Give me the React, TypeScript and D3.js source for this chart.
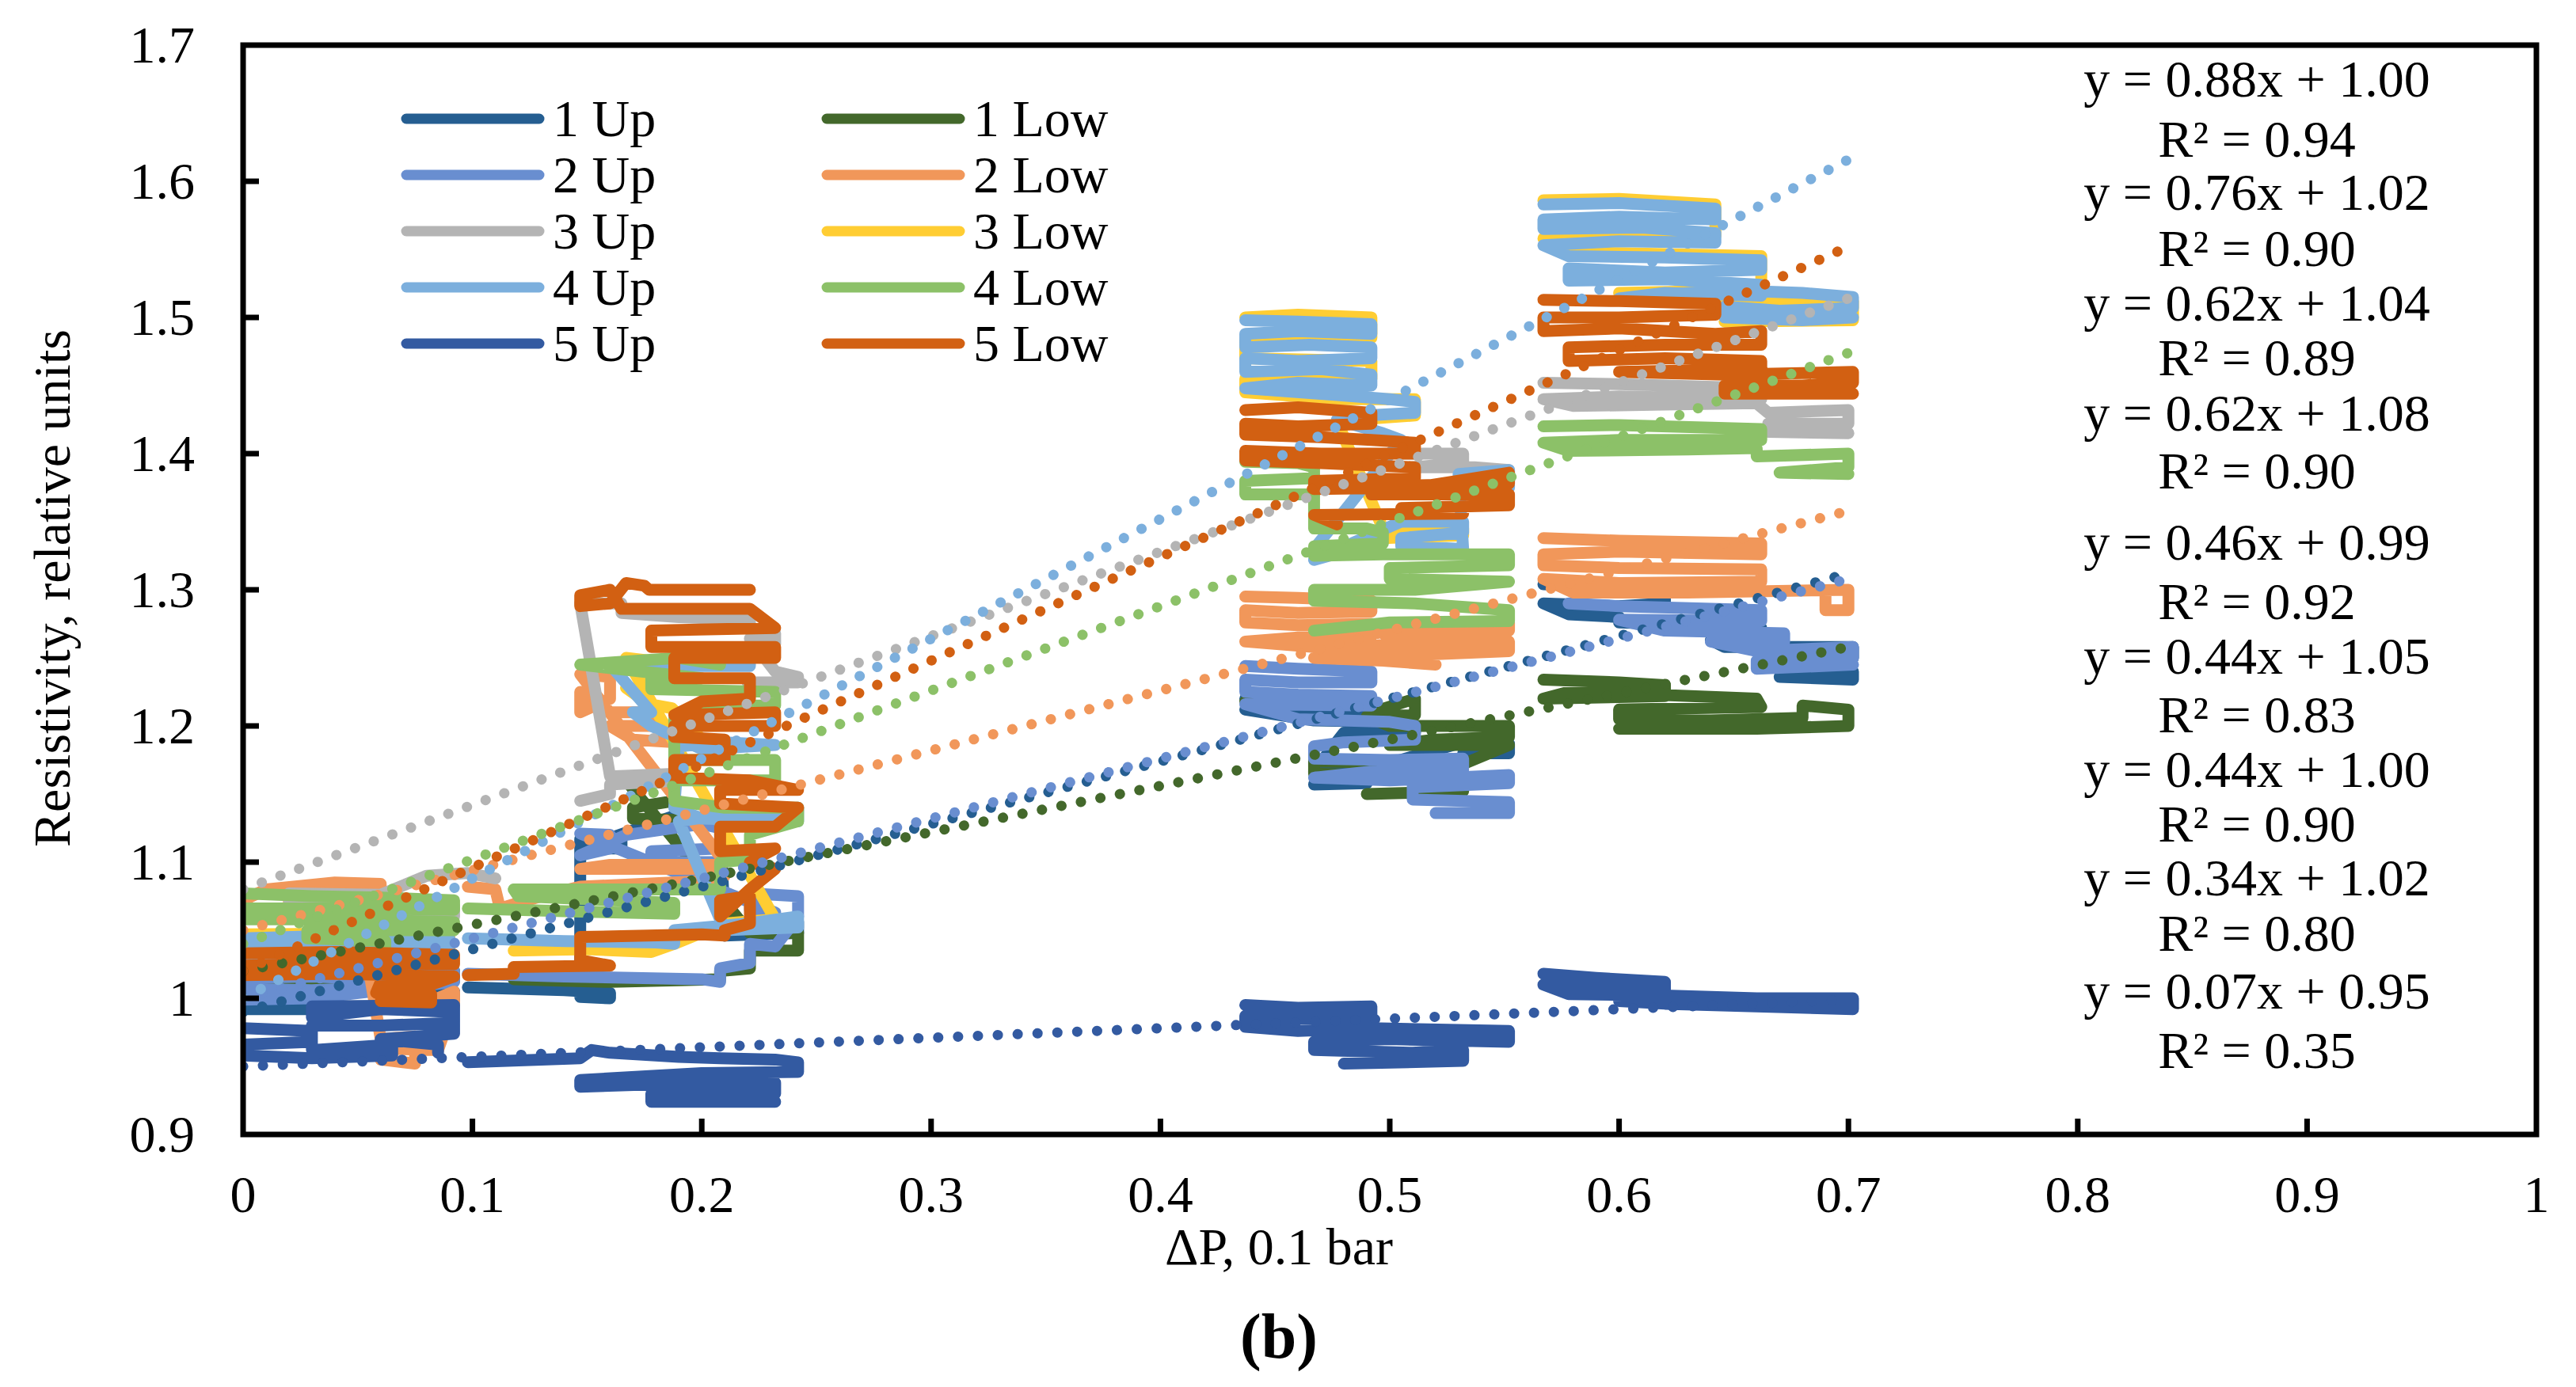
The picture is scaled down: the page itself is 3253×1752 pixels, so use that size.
import React, { useRef, useEffect } from "react";
import * as d3 from "d3";

type Pt = [number, number] | null;

// series in Excel plotting order (legend fills row by row)
const seriesNames = ["1 Up", "1 Low", "2 Up", "2 Low", "3 Up", "3 Low", "4 Up", "4 Low", "5 Up", "5 Low"];
const seriesColors = ["#255E91", "#43682B", "#698ED0", "#F1975A", "#B4B4B4", "#FFCD33", "#7CAFDD", "#8CC168", "#335AA1", "#D26012"];

// traces; null = break between pressure steps
const up1: Pt[] = [
    [0, 0.999], [0.03, 0.997], [0.03, 0.992], [0, 0.992], [0.03, 1.004], [0.06, 1.006], [0.092, 1.005], [0.092, 0.998], [0.06, 1.0],
    null,
    [0.098, 1.008], [0.14, 1.006], [0.16, 1.004], [0.16, 1.0], [0.147, 1.001], [0.147, 1.117], [0.165, 1.117], [0.165, 1.11], [0.147, 1.11],
    [0.188, 1.134], [0.208, 1.132], [0.208, 1.126], [0.21, 1.055], [0.242, 1.056], [0.242, 1.048], [0.21, 1.046],
    null,
    [0.437, 1.22], [0.46, 1.218], [0.492, 1.215], [0.492, 1.21], [0.46, 1.21], [0.437, 1.212], [0.467, 1.204], [0.5, 1.203], [0.511, 1.2],
    [0.511, 1.195], [0.48, 1.195], [0.467, 1.167], [0.49, 1.165], [0.49, 1.158], [0.467, 1.157], [0.532, 1.188], [0.552, 1.187], [0.552, 1.18], [0.532, 1.18],
    null,
    [0.567, 1.304], [0.6, 1.302], [0.62, 1.3], [0.62, 1.29], [0.6, 1.288], [0.567, 1.29], [0.578, 1.282], [0.6, 1.28], [0.6, 1.276], [0.64, 1.274],
    [0.662, 1.272], [0.662, 1.264], [0.64, 1.263], [0.646, 1.258], [0.702, 1.258], [0.702, 1.25], [0.68, 1.248], [0.67, 1.242], [0.702, 1.24],
    [0.702, 1.234], [0.67, 1.236],
];

const low1: Pt[] = [
    [0, 1.022], [0.04, 1.02], [0.092, 1.02], [0.092, 1.013], [0.05, 1.012], [0, 1.014],
    null,
    [0.118, 1.014], [0.16, 1.012], [0.208, 1.014], [0.208, 1.02], [0.221, 1.022], [0.221, 1.035], [0.242, 1.035], [0.242, 1.048], [0.221, 1.048],
    [0.167, 1.16], [0.188, 1.158], [0.188, 1.145], [0.17, 1.14], [0.17, 1.132], [0.188, 1.131],
    null,
    [0.437, 1.218], [0.49, 1.216], [0.492, 1.21], [0.511, 1.22], [0.511, 1.208], [0.49, 1.207], [0.5, 1.2], [0.552, 1.2], [0.552, 1.192],
    [0.52, 1.19], [0.5, 1.186], [0.552, 1.186], [0.532, 1.172], [0.467, 1.174], [0.467, 1.165], [0.51, 1.163], [0.532, 1.16], [0.532, 1.152], [0.49, 1.15],
    null,
    [0.567, 1.234], [0.6, 1.232], [0.62, 1.23], [0.62, 1.222], [0.567, 1.22], [0.578, 1.225], [0.6, 1.224], [0.66, 1.22], [0.662, 1.214],
    [0.6, 1.212], [0.6, 1.205], [0.64, 1.204], [0.68, 1.206], [0.68, 1.215], [0.7, 1.212], [0.7, 1.2], [0.66, 1.198], [0.6, 1.198],
];

const up2: Pt[] = [
    [0, 1.015], [0.03, 1.016], [0.06, 1.014], [0.06, 1.008], [0.03, 1.006], [0, 1.007], [0, 0.999], [0.03, 1.0], [0.092, 1.012], [0.092, 1.02], [0.06, 1.02],
    null,
    [0.098, 1.018], [0.14, 1.016], [0.2, 1.014], [0.208, 1.012], [0.208, 1.022], [0.221, 1.026], [0.221, 1.04], [0.232, 1.038], [0.242, 1.06],
    [0.242, 1.075], [0.221, 1.077], [0.221, 1.065], [0.232, 1.063],
    [0.147, 1.121], [0.16, 1.12], [0.16, 1.11], [0.147, 1.105], [0.167, 1.12], [0.2, 1.128], [0.208, 1.125], [0.208, 1.11], [0.178, 1.108],
    [0.178, 1.1], [0.208, 1.1],
    null,
    [0.437, 1.244], [0.46, 1.242], [0.492, 1.24], [0.492, 1.232], [0.46, 1.232], [0.437, 1.234], [0.437, 1.225], [0.46, 1.223], [0.492, 1.222],
    [0.492, 1.215], [0.437, 1.216], [0.46, 1.205], [0.5, 1.203], [0.511, 1.2], [0.511, 1.19], [0.48, 1.188], [0.467, 1.185], [0.467, 1.176],
    [0.5, 1.175], [0.532, 1.176], [0.532, 1.168], [0.5, 1.168], [0.467, 1.162], [0.5, 1.16], [0.552, 1.164], [0.552, 1.158], [0.51, 1.155],
    [0.51, 1.146], [0.552, 1.144], [0.552, 1.136], [0.52, 1.136],
    null,
    [0.578, 1.29], [0.6, 1.288], [0.662, 1.285], [0.662, 1.277], [0.6, 1.278], [0.62, 1.27], [0.672, 1.268], [0.672, 1.262], [0.64, 1.262],
    [0.66, 1.255], [0.702, 1.258], [0.702, 1.25], [0.66, 1.248], [0.66, 1.242], [0.702, 1.245],
];

const low2: Pt[] = [
    [0, 1.072], [0.01, 1.08], [0.04, 1.085], [0.06, 1.084], [0.06, 1.077], [0.02, 1.078], [0.02, 1.07], [0.05, 1.07],
    [0.06, 0.97], [0.075, 0.972], [0.075, 0.952], [0.06, 0.955], [0.06, 0.963], [0.085, 0.962], [0.092, 0.995], [0.092, 1.005], [0.085, 1.0],
    null,
    [0.098, 1.082], [0.11, 1.08], [0.112, 1.066], [0.13, 1.075], [0.147, 1.082], [0.2, 1.086], [0.21, 1.09], [0.2, 1.095], [0.147, 1.095],
    [0.16, 1.098], [0.208, 1.098], [0.21, 1.1],
    [0.147, 1.238], [0.16, 1.236], [0.16, 1.22], [0.147, 1.21], [0.147, 1.225], [0.16, 1.21], [0.178, 1.21], [0.178, 1.2], [0.16, 1.2],
    [0.17, 1.19], [0.188, 1.188],
    null,
    [0.437, 1.295], [0.46, 1.294], [0.492, 1.292], [0.492, 1.284], [0.46, 1.283], [0.437, 1.285], [0.437, 1.276], [0.46, 1.274], [0.492, 1.275],
    [0.492, 1.266], [0.46, 1.265], [0.437, 1.262], [0.467, 1.258], [0.511, 1.26], [0.552, 1.262], [0.552, 1.255], [0.51, 1.252], [0.467, 1.25],
    [0.497, 1.248], [0.52, 1.245], [0.497, 1.268], [0.552, 1.27], [0.552, 1.276], [0.5, 1.274],
    null,
    [0.567, 1.338], [0.6, 1.336], [0.662, 1.334], [0.662, 1.326], [0.6, 1.328], [0.567, 1.326], [0.567, 1.318], [0.6, 1.316], [0.662, 1.315],
    [0.662, 1.306], [0.6, 1.305], [0.567, 1.308], [0.58, 1.298], [0.63, 1.298], [0.7, 1.3], [0.7, 1.285], [0.69, 1.285], [0.69, 1.296],
];

const up3: Pt[] = [
    [0, 1.064], [0.04, 1.062], [0.092, 1.06], [0.092, 1.068], [0.05, 1.07], [0.02, 1.072], [0.02, 1.077], [0.06, 1.076], [0.08, 1.09],
    [0.098, 1.092], [0.11, 1.088],
    null,
    [0.147, 1.145], [0.16, 1.15], [0.16, 1.157], [0.19, 1.16], [0.19, 1.165], [0.16, 1.163],
    [0.147, 1.29], [0.165, 1.29], [0.165, 1.283], [0.19, 1.28], [0.221, 1.278], [0.221, 1.27], [0.232, 1.268], [0.232, 1.26], [0.221, 1.264],
    [0.232, 1.24], [0.242, 1.236], [0.242, 1.232], [0.22, 1.232],
    null,
    [0.505, 1.4], [0.532, 1.4], [0.532, 1.393], [0.51, 1.39], [0.537, 1.39], [0.552, 1.388], [0.552, 1.382], [0.537, 1.382],
    null,
    [0.567, 1.452], [0.6, 1.451], [0.662, 1.448], [0.662, 1.44], [0.6, 1.442], [0.567, 1.44], [0.58, 1.435], [0.62, 1.436], [0.66, 1.437],
    [0.665, 1.43], [0.7, 1.432], [0.7, 1.422], [0.68, 1.422], [0.665, 1.422], [0.665, 1.416], [0.7, 1.415],
];

const low3: Pt[] = [
    [0, 1.047], [0.09, 1.048], [0.09, 1.03], [0, 1.028],
    null,
    [0.118, 1.035], [0.15, 1.036], [0.178, 1.034], [0.188, 1.04], [0.21, 1.055], [0.232, 1.058],
    [0.167, 1.25], [0.177, 1.248], [0.177, 1.225], [0.167, 1.228], [0.177, 1.216], [0.187, 1.213], [0.2, 1.19], [0.22, 1.185],
    null,
    [0.437, 1.5], [0.46, 1.502], [0.492, 1.5], [0.492, 1.485], [0.437, 1.483], [0.437, 1.47], [0.492, 1.468], [0.492, 1.455], [0.437, 1.455],
    [0.437, 1.445], [0.477, 1.44], [0.511, 1.44], [0.511, 1.428], [0.477, 1.424], [0.497, 1.345], [0.532, 1.345], [0.532, 1.34], [0.497, 1.338],
    null,
    [0.567, 1.586], [0.6, 1.587], [0.642, 1.583], [0.642, 1.56], [0.567, 1.558], [0.578, 1.548], [0.662, 1.545], [0.662, 1.52], [0.6, 1.518],
    [0.646, 1.512], [0.702, 1.512], [0.702, 1.498], [0.646, 1.497],
];

const up4: Pt[] = [
    [0, 1.044], [0.04, 1.046], [0.09, 1.044], [0.09, 1.038], [0.05, 1.037], [0, 1.036], [0, 1.03], [0.04, 1.031], [0.09, 1.032],
    null,
    [0.098, 1.044], [0.14, 1.042], [0.18, 1.041], [0.188, 1.04], [0.188, 1.05], [0.22, 1.055], [0.242, 1.06], [0.242, 1.052], [0.21, 1.05],
    [0.19, 1.13], [0.21, 1.135], [0.242, 1.14], [0.242, 1.13], [0.2, 1.132], [0.188, 1.14], [0.19, 1.185], [0.21, 1.188], [0.232, 1.186],
    [0.2, 1.183], [0.178, 1.2], [0.17, 1.21], [0.178, 1.21], [0.16, 1.245], [0.19, 1.25], [0.221, 1.248], [0.221, 1.244], [0.18, 1.244],
    null,
    [0.437, 1.498], [0.46, 1.497], [0.492, 1.495], [0.492, 1.488], [0.46, 1.49], [0.437, 1.488], [0.437, 1.478], [0.465, 1.48], [0.492, 1.478],
    [0.492, 1.47], [0.46, 1.468], [0.437, 1.47], [0.437, 1.46], [0.47, 1.462], [0.492, 1.458], [0.492, 1.45], [0.46, 1.452], [0.437, 1.448],
    [0.477, 1.443], [0.5, 1.44], [0.511, 1.438], [0.511, 1.43], [0.49, 1.428], [0.477, 1.425], [0.497, 1.415], [0.505, 1.41],
    [0.467, 1.33], [0.48, 1.328], [0.467, 1.322], [0.505, 1.35], [0.532, 1.35], [0.532, 1.342], [0.505, 1.338], [0.505, 1.332], [0.532, 1.33],
    [0.53, 1.385], [0.552, 1.388], [0.552, 1.375], [0.535, 1.372],
    null,
    [0.567, 1.583], [0.6, 1.584], [0.642, 1.58], [0.642, 1.572], [0.6, 1.574], [0.567, 1.572], [0.567, 1.565], [0.61, 1.566], [0.642, 1.562],
    [0.642, 1.555], [0.6, 1.556], [0.567, 1.553], [0.578, 1.545], [0.62, 1.544], [0.662, 1.542], [0.662, 1.535], [0.62, 1.533], [0.578, 1.536],
    [0.578, 1.527], [0.62, 1.528], [0.662, 1.524], [0.662, 1.516], [0.62, 1.518], [0.6, 1.514], [0.646, 1.52], [0.68, 1.518], [0.702, 1.515],
    [0.702, 1.507], [0.67, 1.505], [0.646, 1.508], [0.646, 1.5], [0.68, 1.498], [0.702, 1.5],
];

const low4: Pt[] = [
    [0, 1.077], [0.03, 1.075], [0.06, 1.074], [0.092, 1.072], [0.092, 1.065], [0.05, 1.066], [0, 1.066], [0, 1.058], [0.04, 1.058],
    [0.092, 1.056], [0.092, 1.05], [0.05, 1.05], [0.028, 1.05], [0.028, 1.044], [0.062, 1.042], [0.062, 1.036],
    null,
    [0.098, 1.066], [0.14, 1.064], [0.188, 1.062], [0.188, 1.07], [0.12, 1.075], [0.118, 1.08], [0.208, 1.08], [0.208, 1.1], [0.221, 1.102],
    [0.221, 1.12], [0.242, 1.13], [0.242, 1.14], [0.21, 1.14], [0.188, 1.145], [0.188, 1.16], [0.232, 1.16], [0.232, 1.175], [0.188, 1.175],
    [0.188, 1.205], [0.2, 1.215], [0.232, 1.215], [0.232, 1.225], [0.178, 1.227], [0.178, 1.235], [0.2, 1.235], [0.147, 1.245], [0.19, 1.25],
    [0.208, 1.245],
    null,
    [0.437, 1.394], [0.46, 1.393], [0.467, 1.39], [0.467, 1.382], [0.437, 1.38], [0.437, 1.37], [0.467, 1.37], [0.467, 1.345], [0.49, 1.345],
    [0.497, 1.342], [0.497, 1.334], [0.467, 1.332], [0.467, 1.325], [0.497, 1.326], [0.552, 1.326], [0.552, 1.318], [0.5, 1.316], [0.5, 1.308],
    [0.552, 1.306], [0.511, 1.3], [0.467, 1.3], [0.467, 1.292], [0.511, 1.29], [0.552, 1.285], [0.552, 1.277], [0.5, 1.276], [0.467, 1.27],
    null,
    [0.567, 1.42], [0.6, 1.421], [0.662, 1.418], [0.662, 1.41], [0.6, 1.41], [0.567, 1.408], [0.578, 1.402], [0.63, 1.403], [0.66, 1.404],
    [0.66, 1.398], [0.7, 1.4], [0.7, 1.39], [0.67, 1.386], [0.7, 1.385],
];

const up5: Pt[] = [
    [0, 0.978], [0.03, 0.976], [0.03, 0.968], [0, 0.966], [0, 0.958], [0.03, 0.956], [0.065, 0.958], [0.065, 0.966], [0.03, 0.962],
    [0.03, 0.98], [0.06, 0.98], [0.092, 0.982], [0.092, 0.99], [0.06, 0.992], [0.03, 0.986], [0.03, 0.994], [0.092, 0.995], [0.092, 0.974],
    [0.06, 0.97], [0.085, 0.966], [0.085, 0.96],
    null,
    [0.098, 0.953], [0.13, 0.955], [0.147, 0.956], [0.152, 0.962], [0.16, 0.96], [0.19, 0.957], [0.208, 0.956], [0.232, 0.955], [0.242, 0.953],
    [0.242, 0.946], [0.2, 0.945], [0.147, 0.94], [0.147, 0.935], [0.2, 0.938], [0.232, 0.938], [0.232, 0.93], [0.178, 0.93], [0.178, 0.924], [0.232, 0.924],
    null,
    [0.437, 0.995], [0.46, 0.993], [0.492, 0.994], [0.492, 0.986], [0.46, 0.985], [0.437, 0.987], [0.437, 0.979], [0.46, 0.976], [0.492, 0.978],
    [0.552, 0.976], [0.552, 0.968], [0.5, 0.97], [0.467, 0.968], [0.467, 0.962], [0.51, 0.96], [0.532, 0.962], [0.532, 0.954], [0.48, 0.952],
    null,
    [0.567, 1.018], [0.59, 1.015], [0.62, 1.012], [0.62, 1.006], [0.59, 1.008], [0.567, 1.01], [0.578, 1.003], [0.62, 1.002], [0.66, 1.0],
    [0.702, 1.0], [0.702, 0.992], [0.66, 0.994], [0.62, 0.996], [0.6, 0.998],
];

const low5: Pt[] = [
    [0, 1.033], [0.04, 1.034], [0.092, 1.032], [0.092, 1.025], [0.05, 1.026], [0, 1.024], [0, 1.017], [0.04, 1.018], [0.092, 1.016],
    [0.082, 1.01], [0.06, 1.012], [0.058, 1.004], [0.082, 1.003], [0.082, 0.997], [0.06, 0.998],
    null,
    [0.098, 1.017], [0.118, 1.018], [0.118, 1.023], [0.16, 1.024], [0.147, 1.028], [0.147, 1.045], [0.2, 1.047], [0.21, 1.046], [0.21, 1.05],
    [0.221, 1.055], [0.221, 1.075], [0.208, 1.072], [0.208, 1.06], [0.221, 1.08], [0.232, 1.095], [0.221, 1.1], [0.232, 1.11], [0.208, 1.108],
    [0.208, 1.126], [0.232, 1.126], [0.242, 1.14], [0.208, 1.143], [0.208, 1.153], [0.242, 1.153], [0.221, 1.16], [0.188, 1.162], [0.188, 1.175],
    [0.21, 1.175], [0.21, 1.19], [0.188, 1.192], [0.188, 1.2], [0.232, 1.2], [0.232, 1.21], [0.188, 1.208], [0.2, 1.218], [0.221, 1.22],
    [0.221, 1.235], [0.188, 1.235], [0.188, 1.25], [0.232, 1.25], [0.232, 1.258], [0.178, 1.258], [0.178, 1.27], [0.232, 1.272], [0.221, 1.286],
    [0.165, 1.286], [0.16, 1.3], [0.147, 1.296], [0.147, 1.288], [0.16, 1.29], [0.167, 1.305], [0.175, 1.303], [0.177, 1.3], [0.221, 1.3],
    null,
    [0.437, 1.432], [0.46, 1.434], [0.492, 1.43], [0.492, 1.422], [0.46, 1.42], [0.437, 1.422], [0.437, 1.414], [0.47, 1.412], [0.492, 1.41],
    [0.511, 1.408], [0.511, 1.4], [0.47, 1.4], [0.437, 1.402], [0.437, 1.395], [0.47, 1.393], [0.511, 1.39], [0.511, 1.382], [0.467, 1.38],
    [0.467, 1.374], [0.511, 1.375], [0.552, 1.386], [0.552, 1.378], [0.492, 1.376], [0.492, 1.37], [0.552, 1.37], [0.552, 1.362], [0.505, 1.36],
    [0.532, 1.356], [0.467, 1.355], [0.477, 1.348],
    null,
    [0.567, 1.513], [0.6, 1.512], [0.642, 1.51], [0.642, 1.502], [0.6, 1.5], [0.567, 1.5], [0.567, 1.49], [0.6, 1.492], [0.642, 1.488],
    [0.662, 1.49], [0.662, 1.48], [0.62, 1.48], [0.578, 1.478], [0.578, 1.468], [0.62, 1.47], [0.662, 1.468], [0.662, 1.462], [0.6, 1.46],
    [0.646, 1.458], [0.702, 1.46], [0.702, 1.452], [0.68, 1.45], [0.646, 1.45], [0.646, 1.444], [0.702, 1.444],
];

const seriesData = [up1, low1, up2, low2, up3, low3, up4, low4, up5, low5];

// linear trend lines (null = no trend line for that series)
const trendSlopes = [0.46, 0.34, 0.44, 0.44, 0.62, null, 0.88, 0.62, 0.07, 0.76];
const trendIntercepts = [0.99, 1.02, 1.0, 1.05, 1.08, null, 1.0, 1.04, 0.95, 1.02];
const trendR2 = [0.92, 0.8, 0.9, 0.83, 0.9, null, 0.94, 0.89, 0.35, 0.9];
const trendEnd = 0.7;
// order of the equation labels, top to bottom (series index)
const equationOrder = [6, 9, 7, 4, 0, 3, 2, 1, 8];

const xTicks = [0, 0.1, 0.2, 0.3, 0.4, 0.5, 0.6, 0.7, 0.8, 0.9, 1];
const yTicks = [0.9, 1.0, 1.1, 1.2, 1.3, 1.4, 1.5, 1.6, 1.7];

const W = 3253;
const H = 1752;
const plot = { left: 307, right: 3203, top: 57, bottom: 1433 };
const eqX = 2850;
const eqY = [100, 176, 243, 314, 383, 452, 522, 595, 685, 760, 829, 903, 972, 1041, 1109, 1179, 1252, 1327];
const FONT = "'Liberation Serif', 'Times New Roman', serif";

const App: React.FC = () => {
    const svgRef = useRef<SVGSVGElement | null>(null);

    useEffect(() => {
        if (!svgRef.current) return;
        const svg = d3.select(svgRef.current);
        svg.selectAll("*").remove();

        const x = d3.scaleLinear().domain([0, 1]).range([plot.left, plot.right]);
        const y = d3.scaleLinear().domain([0.9, 1.7]).range([plot.bottom, plot.top]);

        svg.append("rect").attr("width", W).attr("height", H).attr("fill", "#fff");

        const line = d3
            .line<Pt>()
            .defined((d) => d !== null)
            .x((d) => x((d as [number, number])[0]))
            .y((d) => y((d as [number, number])[1]));

        svg.append("clipPath")
            .attr("id", "plotClip")
            .append("rect")
            .attr("x", plot.left)
            .attr("y", plot.top)
            .attr("width", plot.right - plot.left)
            .attr("height", plot.bottom - plot.top);

        const dataG = svg.append("g").attr("clip-path", "url(#plotClip)");

        seriesData.forEach((pts, i) => {
            dataG.append("path")
                .attr("d", line(pts) as string)
                .attr("fill", "none")
                .attr("stroke", seriesColors[i])
                .attr("stroke-width", 15)
                .attr("stroke-linejoin", "round")
                .attr("stroke-linecap", "round");
        });

        // dotted trend lines
        seriesData.forEach((_, i) => {
            const m = trendSlopes[i];
            const b = trendIntercepts[i];
            if (m === null || b === null) return;
            const pts: Pt[] = [0, trendEnd].map((v) => [v, m * v + b] as [number, number]);
            dataG.append("path")
                .attr("d", line(pts) as string)
                .attr("fill", "none")
                .attr("stroke", seriesColors[i])
                .attr("stroke-width", 13)
                .attr("stroke-linecap", "round")
                .attr("stroke-dasharray", "0.1 25");
        });

        // plot frame
        svg.append("rect")
            .attr("x", plot.left)
            .attr("y", plot.top)
            .attr("width", plot.right - plot.left)
            .attr("height", plot.bottom - plot.top)
            .attr("fill", "none")
            .attr("stroke", "#000")
            .attr("stroke-width", 7);

        // ticks point inward
        svg.append("g")
            .selectAll("line")
            .data(xTicks.slice(1, -1))
            .enter()
            .append("line")
            .attr("x1", (d) => x(d))
            .attr("x2", (d) => x(d))
            .attr("y1", plot.bottom)
            .attr("y2", plot.bottom - 20)
            .attr("stroke", "#000")
            .attr("stroke-width", 7);

        svg.append("g")
            .selectAll("line")
            .data(yTicks.slice(1, -1))
            .enter()
            .append("line")
            .attr("x1", plot.left)
            .attr("x2", plot.left + 20)
            .attr("y1", (d) => y(d))
            .attr("y2", (d) => y(d))
            .attr("stroke", "#000")
            .attr("stroke-width", 7);

        const fmt = (v: number) => String(+v.toFixed(1));

        svg.append("g")
            .selectAll("text")
            .data(xTicks)
            .enter()
            .append("text")
            .attr("x", (d) => x(d))
            .attr("y", 1531)
            .attr("text-anchor", "middle")
            .style("font-family", FONT)
            .style("font-size", "66px")
            .text((d) => fmt(d));

        svg.append("g")
            .selectAll("text")
            .data(yTicks)
            .enter()
            .append("text")
            .attr("x", 246)
            .attr("y", (d) => y(d))
            .attr("dy", "0.33em")
            .attr("text-anchor", "end")
            .style("font-family", FONT)
            .style("font-size", "66px")
            .text((d) => fmt(d));

        // axis titles
        svg.append("text")
            .attr("x", 1615)
            .attr("y", 1597)
            .attr("text-anchor", "middle")
            .style("font-family", FONT)
            .style("font-size", "66px")
            .text("ΔP, 0.1 bar");

        svg.append("text")
            .attr("transform", "translate(66,743) rotate(-90)")
            .attr("dy", "0.33em")
            .attr("text-anchor", "middle")
            .style("font-family", FONT)
            .style("font-size", "66px")
            .text("Resistivity, relative units");

        svg.append("text")
            .attr("x", 1615)
            .attr("y", 1715)
            .attr("text-anchor", "middle")
            .style("font-family", FONT)
            .style("font-size", "80px")
            .style("font-weight", "bold")
            .text("(b)");

        // trend equations
        const eqLines: string[] = [];
        equationOrder.forEach((i) => {
            const m = trendSlopes[i] as number;
            const b = trendIntercepts[i] as number;
            const r2 = trendR2[i] as number;
            eqLines.push(`y = ${m.toFixed(2)}x + ${b.toFixed(2)}`);
            eqLines.push(`R² = ${r2.toFixed(2)}`);
        });
        svg.append("g")
            .selectAll("text")
            .data(eqLines)
            .enter()
            .append("text")
            .attr("x", eqX)
            .attr("y", (d, k) => eqY[k])
            .attr("dy", "0.33em")
            .attr("text-anchor", "middle")
            .style("font-family", FONT)
            .style("font-size", "66px")
            .text((d) => d);

        // legend: Up series left column, Low series right column
        const legend = svg.append("g");
        const colX = [513, 1044];
        const rowY = [150, 221, 292, 363, 434];
        seriesNames.forEach((name, i) => {
            const col = i % 2;
            const row = Math.floor(i / 2);
            legend.append("line")
                .attr("x1", colX[col])
                .attr("x2", colX[col] + 168)
                .attr("y1", rowY[row])
                .attr("y2", rowY[row])
                .attr("stroke", seriesColors[i])
                .attr("stroke-width", 13)
                .attr("stroke-linecap", "round");
            legend.append("text")
                .attr("x", colX[col] + 185)
                .attr("y", rowY[row])
                .attr("dy", "0.33em")
                .style("font-family", FONT)
                .style("font-size", "66px")
                .text(name);
        });
    }, []);

    return (
        <div>
            <style>{`body { margin: 0; }`}</style>
            <svg ref={svgRef} width={W} height={H} style={{ display: "block" }}></svg>
        </div>
    );
};

export default App;
